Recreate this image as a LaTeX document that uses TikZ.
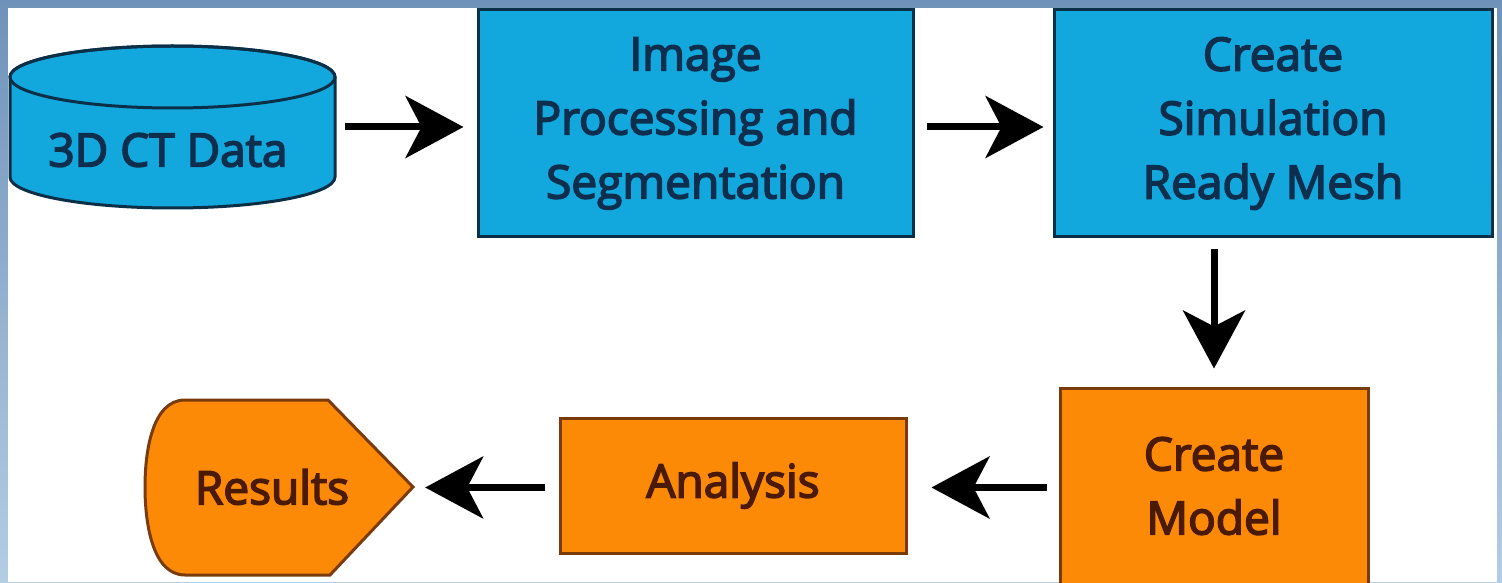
\documentclass[tikz,border=0pt]{standalone}
\usepackage{fontspec}
\setmainfont{Open Sans}[RawFeature={embolden=3.5}]
\usetikzlibrary{arrows.meta,calc}
\definecolor{frameblue}{HTML}{6F92BA}
\definecolor{framelight}{HTML}{B4CDE3}
\definecolor{boxblue}{HTML}{12A8DD}
\definecolor{blueline}{HTML}{0C2F48}
\definecolor{bluetext}{HTML}{0E2E4E}
\definecolor{boxorange}{HTML}{FD8A07}
\definecolor{orangeline}{HTML}{7A3B0A}
\definecolor{orangetext}{HTML}{4A1A05}
\tikzset{
  x=1pt, y=1pt,
  txt/.style={font=\fontsize{46}{64}\selectfont, align=center},
  bluebox/.style={draw=blueline, line width=3pt, fill=boxblue, txt, text=bluetext, inner sep=0pt},
  orangebox/.style={draw=orangeline, line width=3pt, fill=boxorange, txt, text=orangetext, inner sep=0pt},
  arr/.style={line width=7pt, -{Stealth[length=58pt, width=62pt, inset=16pt]}},
  ghost/.style={inner sep=0pt, draw=none}
}
\begin{document}
\begin{tikzpicture}
\useasboundingbox (0,0) rectangle (1502,582);
% frame
\shade[top color=frameblue, bottom color=framelight] (0,0) rectangle (1502,582);
\fill[white] (8,0) rectangle (1497,574);
% cylinder
\node[ghost, minimum width=325pt, minimum height=163pt] (data) at (172.5,455) {};
\filldraw[draw=blueline, line width=3pt, fill=boxblue]
  (10,505) -- (10,405) arc[start angle=180, end angle=360, x radius=162.5, y radius=31]
  -- (335,505) arc[start angle=0, end angle=180, x radius=162.5, y radius=31] -- cycle;
\draw[blueline, line width=3pt] (172.5,505) ellipse[x radius=162.5, y radius=31];
\node[txt, text=bluetext] (datatext) at (168,432) {3D CT Data};
% top row boxes
\node[bluebox, minimum width=435pt, minimum height=227pt] (proc) at (695.5,458.5)
  {Image\\Processing and\\Segmentation};
\node[bluebox, minimum width=438pt, minimum height=227pt] (mesh) at (1273,458.5)
  {Create\\Simulation\\Ready Mesh};
% bottom row
\node[orangebox, minimum width=308pt, minimum height=196pt] (model) at (1214,96)
  {Create\\Model};
\node[orangebox, minimum width=346pt, minimum height=135pt] (anal) at (733,96.5)
  {Analysis};
\node[ghost, minimum width=268pt, minimum height=175pt] (res) at (279,94.5) {};
\filldraw[draw=orangeline, line width=3pt, fill=boxorange]
  (328,182) -- (413,95) -- (330,7) -- (185,7)
  .. controls (152,7) and (145,60) .. (145,95)
  .. controls (145,130) and (152,182) .. (185,182) -- cycle;
\node[txt, text=orangetext] (restext) at (272,95) {Results};
% arrows
\draw[arr, shorten <=10pt, shorten >=13pt] (data.east) -- (data.east -| proc.west);
\draw[arr, shorten <=12pt, shorten >=9pt] (data.east -| proc.east) -- (data.east -| mesh.west);
\draw[arr, shorten <=11pt, shorten >=18pt] (model.north |- mesh.south) -- (model.north);
\draw[arr, shorten <=12pt, shorten >=24pt] (res.east -| model.west) -- (res.east -| anal.east);
\draw[arr, shorten <=14pt, shorten >=12pt] (res.east -| anal.west) -- (res.east);
\end{tikzpicture}
\end{document}
